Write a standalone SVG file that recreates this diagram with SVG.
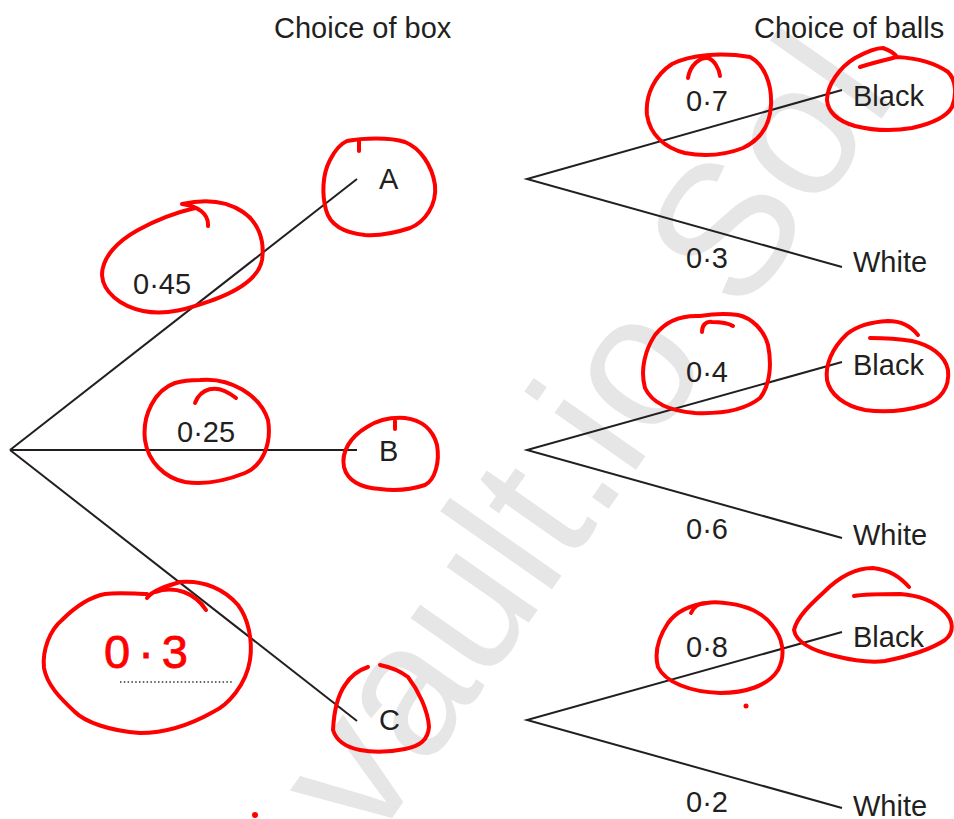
<svg xmlns="http://www.w3.org/2000/svg" width="954" height="819" viewBox="0 0 954 819">
  <style>
    .lbl { font-family: "Liberation Sans", Arial, sans-serif; font-size: 29px; fill: #231f20; }
    .edge { stroke: #231f20; stroke-width: 2; fill: none; stroke-linecap: butt; }
    .ink { stroke: #ff0000; stroke-width: 4; fill: none; stroke-linecap: round; stroke-linejoin: round; }
    .wm { font-family: "Liberation Sans", Arial, sans-serif; font-size: 188px; fill: #e6e6e6; }
  </style>
  <rect width="954" height="819" fill="#ffffff"/>

  <!-- background watermark -->
  <text class="wm" transform="translate(371,848) rotate(-55)">vault.io Sol</text>

  <!-- column headings -->
  <text class="lbl" x="274" y="38">Choice of box</text>
  <text class="lbl" x="754" y="38">Choice of balls</text>

  <!-- tree branches -->
  <g id="connectors">
    <line class="edge" x1="10" y1="450" x2="357" y2="179"/>
    <line class="edge" x1="10" y1="450" x2="357" y2="450"/>
    <line class="edge" x1="10" y1="450" x2="357" y2="721"/>
    <polyline class="edge" points="842,90 527,179 842,267"/>
    <polyline class="edge" points="842,362 527,450 842,538"/>
    <polyline class="edge" points="842,632 527,720 842,808"/>
  </g>

  <!-- first-stage probabilities -->
  <g id="p-A">
    <text class="lbl" x="133" y="294">0·45</text>
    <path class="ink" d="M208,226 C209,214 198,206 182,204 C200,200 224,199 243,212 C258,222 265,240 262,260 C259,277 240,290 213,300 C190,308 168,316 143,311 C120,306 103,292 102,275 C102,257 118,241 138,230 C158,219 178,212 195,208"/>
  </g>
  <g id="p-B">
    <text class="lbl" x="177" y="442">0·25</text>
    <path class="ink" d="M200,380 C230,377 260,395 268,420 C272,445 262,466 245,473 C225,481 205,485 185,482 C165,478 148,462 145,440 C142,415 155,390 175,383 C185,380 195,380 200,380 Z"/>
    <path class="ink" d="M195,403 C200,390 215,381 236,398"/>
  </g>
  <g id="p-C">
    <path class="ink" d="M147,598 C152,590 170,585 180,582 C205,580 225,590 238,605 C248,618 253,640 250,660 C246,685 228,705 213,712 C190,725 165,733 140,733 C110,731 85,722 75,712 C60,698 47,685 44,668 C42,650 50,630 62,620 C75,607 90,597 105,594 C120,592 135,594 147,594"/>
    <path class="ink" d="M155,592 C175,585 195,593 206,610"/>
    <text x="104" y="668" font-family="Liberation Sans, Arial, sans-serif" font-size="47" fill="#ff0000" stroke="#ff0000" stroke-width="0.8" letter-spacing="8">0·3</text>
    <line x1="120" y1="682" x2="234" y2="682" stroke="#333333" stroke-width="1.5" stroke-dasharray="1.5 2.3"/>
  </g>

  <!-- boxes -->
  <g id="box-A">
    <text class="lbl" x="379" y="189">A</text>
    <path class="ink" d="M347,141 C362,138 390,137 405,142 C420,148 432,165 435,185 C437,205 425,222 410,228 C395,233 380,236 365,235 C345,233 330,225 326,210 C322,195 322,175 330,160 C335,150 340,144 347,141 Z"/>
    <path class="ink" d="M359,141 L359,151"/>
  </g>
  <g id="box-B">
    <text class="lbl" x="379" y="461">B</text>
    <path class="ink" d="M367,427 C378,420 390,417 405,418 C422,420 433,430 437,445 C440,462 435,480 425,485 C410,490 395,491 380,489 C360,488 347,480 344,467 C341,452 350,437 367,427 Z"/>
    <path class="ink" d="M395,421 L395,429"/>
  </g>
  <g id="box-C">
    <text class="lbl" x="379" y="730">C</text>
    <path class="ink" d="M380,665 C390,667 400,671 408,677 C418,690 428,710 429,727 C428,740 420,746 405,749 C390,752 375,753 360,750 C345,747 336,740 333,730 C334,710 338,695 345,685 C350,677 356,671 368,667"/>
  </g>

  <!-- second-stage probabilities -->
  <g id="p-A-black">
    <text class="lbl" x="686" y="111">0·7</text>
    <path class="ink" d="M647,115 C645,95 655,75 672,64 C690,55 720,52 750,57 C765,65 772,85 771,105 C770,125 760,140 743,148 C725,155 705,157 685,153 C665,148 650,135 647,115 Z"/>
    <path class="ink" d="M688,78 C690,65 700,57 708,58 C714,60 719,68 720,76"/>
  </g>
  <g id="p-A-white"><text class="lbl" x="686" y="268">0·3</text></g>
  <g id="p-B-black">
    <text class="lbl" x="686" y="382">0·4</text>
    <path class="ink" d="M700,316 C680,315 665,322 655,335 C645,350 640,370 645,388 C652,403 670,411 695,413 C720,414 745,410 760,398 C770,385 772,365 768,345 C764,330 752,318 738,315 C725,313 712,314 700,316 Z"/>
    <path class="ink" d="M702,332 C702,325 706,321 712,322 C720,322 728,323 733,326"/>
  </g>
  <g id="p-B-white"><text class="lbl" x="686" y="539">0·6</text></g>
  <g id="p-C-black">
    <text class="lbl" x="686" y="657">0·8</text>
    <path class="ink" d="M707,603 C690,605 676,612 668,623 C658,638 654,652 658,667 C665,682 690,692 720,693 C745,693 768,686 778,670 C786,655 783,638 772,625 C762,612 745,605 725,603 C717,602 712,602 707,603 Z"/>
    <path class="ink" d="M691,613 C694,606 700,603 706,603"/>
    <circle cx="746" cy="706" r="2.5" fill="#ff0000"/>
  </g>
  <g id="p-C-white"><text class="lbl" x="686" y="812">0·2</text></g>

  <!-- outcomes -->
  <g id="A-black">
    <text class="lbl" x="853" y="106">Black</text>
    <path class="ink" d="M860,67 C872,63 885,60 897,57 C915,58 935,63 948,72 C956,80 957,95 952,107 C946,118 930,124 912,128 C895,131 875,131 855,126 C838,121 828,112 827,100 C827,85 840,67 855,58 C866,52 876,48 883,48 C889,50 894,53 897,57"/>
  </g>
  <g id="A-white"><text class="lbl" x="853" y="272">White</text></g>
  <g id="B-black">
    <text class="lbl" x="853" y="375">Black</text>
    <path class="ink" d="M870,338 C885,338 900,339 912,341 C930,345 945,355 948,370 C950,388 940,400 925,405 C905,411 885,413 865,410 C845,406 830,395 827,380 C825,365 832,348 847,334 C857,326 870,322 888,321 C900,321 910,325 918,335"/>
  </g>
  <g id="B-white"><text class="lbl" x="853" y="545">White</text></g>
  <g id="C-black">
    <text class="lbl" x="853" y="647">Black</text>
    <path class="ink" d="M909,587 C900,577 890,570 873,568 C855,568 838,578 824,592 C810,605 797,617 794,630 C796,642 810,650 835,656 C855,661 870,663 885,661 C905,657 930,650 945,640 C955,632 953,620 945,612 C933,600 915,595 900,594 C880,594 865,594 854,596"/>
  </g>
  <g id="C-white"><text class="lbl" x="853" y="816">White</text></g>

  <!-- stray pen mark -->
  <circle cx="255" cy="815" r="3" fill="#ff0000"/>
</svg>
